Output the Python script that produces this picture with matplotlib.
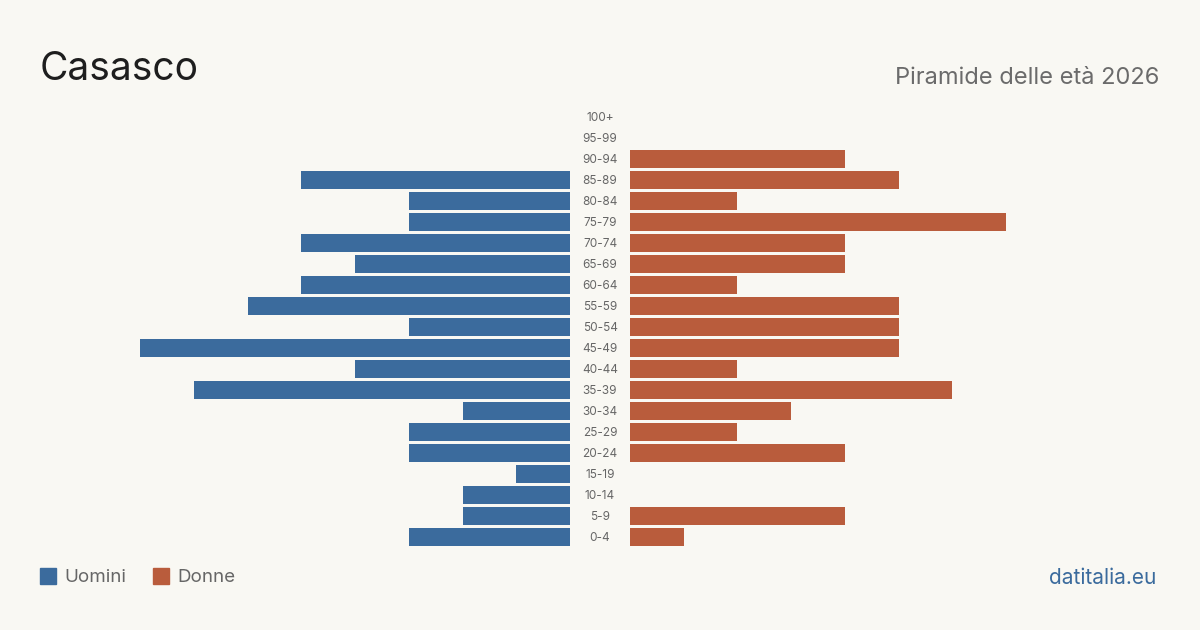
import matplotlib
matplotlib.use('Agg')
import matplotlib.pyplot as plt
from matplotlib.patches import Rectangle

plt.rcParams['font.family'] = ['Inter', 'DejaVu Sans']

age_groups = ['0-4', '5-9', '10-14', '15-19', '20-24', '25-29', '30-34', '35-39',
              '40-44', '45-49', '50-54', '55-59', '60-64', '65-69', '70-74',
              '75-79', '80-84', '85-89', '90-94', '95-99', '100+']
men = [3, 2, 2, 1, 3, 3, 2, 7, 4, 8, 3, 6, 5, 4, 5, 3, 3, 5, 0, 0, 0]
women = [1, 4, 0, 0, 4, 2, 3, 6, 2, 5, 5, 5, 2, 4, 4, 7, 2, 5, 4, 0, 0]

bg = '#f9f8f3'
blue = '#3b6b9d'
red = '#b95c3c'

W, H = 1200, 630
fig = plt.figure(figsize=(12, 6.3), dpi=100, facecolor=bg)

unit = 53.7  # px per person
y0 = 106.5
y1 = 547.5
ax_bottom = 1 - y1 / H
ax_height = (y1 - y0) / H

left_px, center_l, center_r, right_px = 30, 570, 630, 1170
ax_l = fig.add_axes([left_px / W, ax_bottom, (center_l - left_px) / W, ax_height])
ax_r = fig.add_axes([center_r / W, ax_bottom, (right_px - center_r) / W, ax_height])

ypos = list(range(len(age_groups)))
ax_l.barh(ypos, men, height=0.81, color=blue)
ax_r.barh(ypos, women, height=0.81, color=red)

ax_l.set_xlim((center_l - left_px) / unit, 0)
ax_r.set_xlim(0, (right_px - center_r) / unit)
for ax in (ax_l, ax_r):
    ax.set_ylim(-0.5, len(age_groups) - 0.5)
    ax.axis('off')
    ax.set_facecolor('none')

for i, lab in enumerate(age_groups):
    yy = 1 - (y1 - 10.5 - i * 21 + 1) / H
    fig.text(600 / W, yy, lab, ha='center', va='center', fontsize=8.5, color='#666666')

fig.text(40 / W, 1 - 69 / H, 'Casasco', fontsize=28, color='#1e1e1e', va='center', ha='left')
fig.text(1159 / W, 1 - 78 / H, 'Piramide delle età 2026', fontsize=17, color='#6b6b6b',
         va='center', ha='right')

# legend
fig.patches.append(Rectangle((40 / W, 1 - 584 / H), 16 / W, 16 / H,
                             transform=fig.transFigure, color=blue))
fig.text(64 / W, 1 - 578 / H, 'Uomini', fontsize=13.5, color='#666666', va='center')
fig.patches.append(Rectangle((153 / W, 1 - 584 / H), 16 / W, 16 / H,
                             transform=fig.transFigure, color=red))
fig.text(177 / W, 1 - 578 / H, 'Donne', fontsize=13.5, color='#666666', va='center')

fig.text(1156 / W, 1 - 578 / H, 'datitalia.eu', fontsize=15, color='#3b6b9d',
         va='center', ha='right')

fig.savefig('out.png', dpi=100, facecolor=bg)
